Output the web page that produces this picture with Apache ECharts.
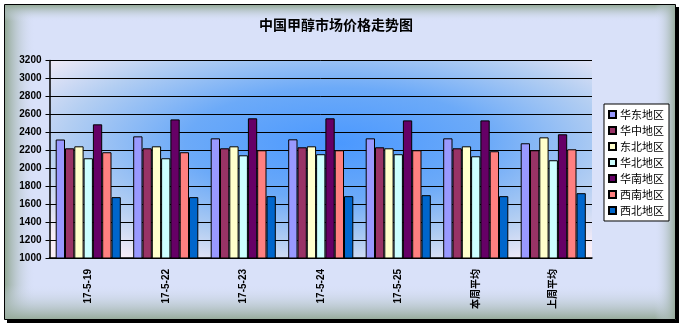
<!DOCTYPE html>
<html><head><meta charset="utf-8">
<script src="https://cdn.jsdelivr.net/npm/echarts@6/dist/echarts.min.js"></script>
<style>html,body{margin:0;padding:0;background:#fff}#c{width:681px;height:328px}</style>
</head><body><div id="c"></div>
<script>
const categories = ['17-5-19','17-5-22','17-5-23','17-5-24','17-5-25','本周平均','上周平均'];
const seriesNames = ['华东地区','华中地区','东北地区','华北地区','华南地区','西南地区','西北地区'];
const huadong = [2320,2355,2333,2322,2333,2333,2278];
const huazhong = [2222,2222,2222,2233,2233,2222,2200];
const dongbei = [2244,2244,2244,2244,2222,2244,2344];
const huabei = [2111,2111,2144,2156,2156,2133,2089];
const huanan = [2489,2544,2556,2556,2533,2533,2378];
const xinan = [2178,2178,2200,2200,2200,2189,2211];
const xibei = [1678,1678,1689,1689,1700,1689,1722];
const colors = ['#9999ff','#993366','#ffffcc','#ccffff','#660066','#ff8080','#0066cc'];
const yTicks = {min:1000, max:3200, interval:200};

const data = [huadong,huazhong,dongbei,huabei,huanan,xinan,xibei];
const G = '#94a997', T = 'rgba(214,222,246,0)';
const lin = (x,y,x2,y2,c0,c1)=>({type:'linear',x:x,y:y,x2:x2,y2:y2,colorStops:[{offset:0,color:c0},{offset:1,color:c1}]});
const PL=49.5, PT=60.5, PW=681-89-49.5, PH=328-70-60.5;
const chart = echarts.init(document.getElementById('c'));
chart.setOption({
  animation:false,
  graphic:[
    {type:'rect', z:-10, shape:{x:7,y:7,width:672,height:316}, style:{fill:'#000'}},
    {type:'rect', z:-9, shape:{x:4.5,y:4.5,width:671,height:315}, style:{fill:'#d9e1f9'}},
    {type:'rect', z:-8, shape:{x:5,y:5,width:30,height:315}, style:{fill:lin(0,0,1,0,G,T)}},
    {type:'rect', z:-8, shape:{x:5,y:285,width:671,height:35}, style:{fill:lin(0,1,0,0,G,T)}},
    {type:'rect', z:-8, shape:{x:5,y:5,width:671,height:16}, style:{fill:lin(0,0,0,1,G,T)}},
    {type:'rect', z:-8, shape:{x:655,y:5,width:21,height:315}, style:{fill:lin(1,0,0,0,G,T)}},
    {type:'rect', z:-7, shape:{x:4.5,y:4.5,width:671,height:315}, style:{fill:'none',stroke:'#000',lineWidth:1}},
    {type:'rect', z:-6, x:PL, y:PT, scaleX:PW/PH, shape:{x:0,y:0,width:PH,height:PH},
     style:{fill:{type:'radial',x:0.53,y:0.42,r:0.7,colorStops:[
      {offset:0,color:'#4a98ff'},{offset:0.4,color:'#6caaf8'},{offset:0.72,color:'#b3cef2'},{offset:1,color:'#f9eef7'}]}}}
  ],
  title:{text:'中国甲醇市场价格走势图', left:331, top:13, textAlign:'center',
    textStyle:{fontSize:14,fontWeight:'bold',color:'#000',fontFamily:'Noto Sans CJK SC'}},
  legend:{orient:'vertical', left:604, top:104, padding:[5,5,5,4], itemGap:5,
    itemWidth:7, itemHeight:7, icon:'rect',
    backgroundColor:'#fff', borderColor:'#000', borderWidth:1,
    textStyle:{fontSize:11,color:'#000',fontFamily:'Noto Sans CJK SC',padding:[0,0,0,-1]},
    data:seriesNames},
  grid:{left:PL, right:89, top:PT, bottom:70, show:false},
  xAxis:{type:'category', data:categories,
    axisLine:{lineStyle:{color:'#000',width:1.5}},
    axisTick:{inside:true,length:3,lineStyle:{color:'#000'}},
    axisLabel:{rotate:90, margin:11, fontSize:10, fontWeight:'bold', color:'#000', fontFamily:'Liberation Sans, Noto Sans CJK SC'}},
  yAxis:{type:'value', min:yTicks.min, max:yTicks.max, interval:yTicks.interval,
    axisLine:{show:true,lineStyle:{color:'#000',width:1.5}},
    axisTick:{show:true,length:4,lineStyle:{color:'#000'}},
    splitLine:{lineStyle:{color:'#000',width:1}},
    axisLabel:{formatter:v=>String(v), fontSize:10, fontWeight:'bold', color:'#000', margin:8, fontFamily:'Liberation Sans'}},
  series:seriesNames.map((n,i)=>({
    name:n, type:'bar', data:data[i], barGap:'0%', barWidth:9.3,
    itemStyle:{color:colors[i], borderColor:'#000', borderWidth:1}
  }))
});
</script></body></html>
